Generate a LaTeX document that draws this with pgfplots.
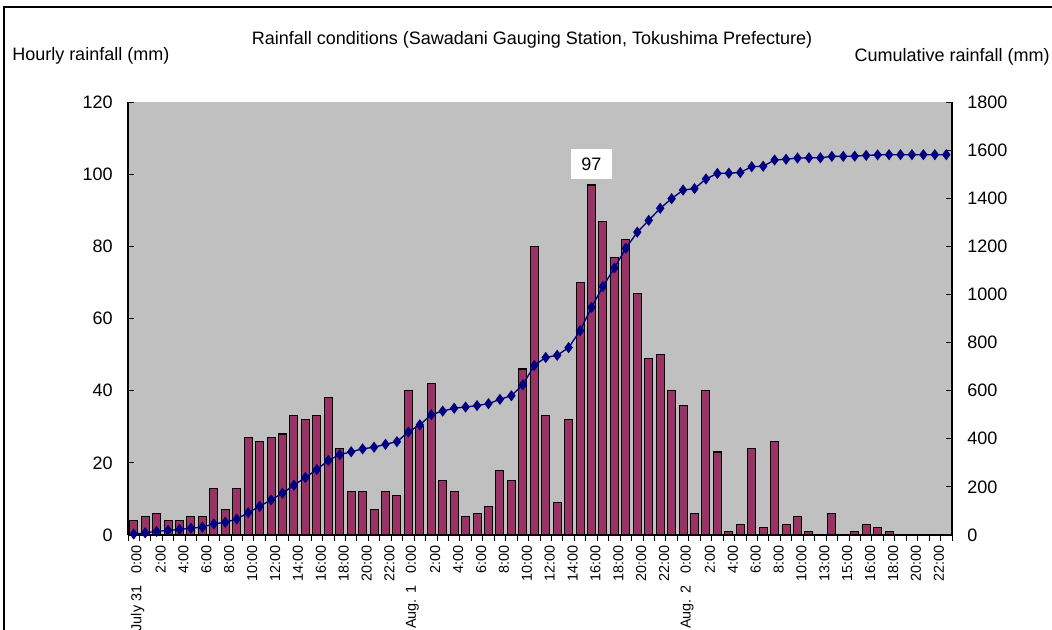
\documentclass[border=0pt]{standalone}
\usepackage{fontspec}
\setmainfont{Liberation Sans}
\usepackage{pgfplots}
\pgfplotsset{compat=1.18}
\definecolor{bggray}{HTML}{C0C0C0}
\definecolor{barcol}{HTML}{993366}
\definecolor{linecol}{HTML}{000080}
\begin{document}
\begin{tikzpicture}
\useasboundingbox (0,0) rectangle (789pt,471.75pt);
\draw[line width=1.2pt] (3pt,-5pt) -- (3pt,466.5pt) -- (795pt,466.5pt);
\begin{axis}[at={(96pt,70.5pt)}, anchor=south west, scale only axis,
  width=618pt, height=324.75pt,
  xmin=-0.5, xmax=71.5, ymin=0, ymax=120, ytick={0,20,...,120},
  axis x line*=bottom, axis y line*=left,
  axis line style={-, line width=0.8pt},
  axis background/.style={fill=bggray},
  tick align=inside, major tick length=4.5pt, minor tick length=4.5pt,
  tick style={black, line width=0.7pt},
  xtick={0,2,...,70},
  xticklabels={{July 31\hspace{9pt}0:00},2:00,4:00,6:00,8:00,10:00,12:00,14:00,16:00,18:00,20:00,22:00,
    {Aug. 1\hspace{9pt}0:00},2:00,4:00,6:00,8:00,10:00,12:00,14:00,16:00,18:00,20:00,22:00,
    {Aug. 2\hspace{9pt}0:00},2:00,4:00,6:00,8:00,10:00,13:00,15:00,16:00,18:00,20:00,22:00},
  minor xtick={-0.5,0.5,...,71.5},
  major x tick style={draw=none},
  /pgf/number format/assume math mode=true,
  yticklabel style={font=\fontsize{13.5}{14}\selectfont, xshift=-8pt},
  xticklabel style={font=\fontsize{10.8}{11}\selectfont, rotate=90, anchor=east, yshift=-3pt},
  ybar, bar width=0.7,
]
\addplot[fill=barcol, draw=black, line width=0.8pt] coordinates {
(0,4) (1,5) (2,6) (3,4) (4,4) (5,5) (6,5) (7,13) (8,7) (9,13)
(10,27) (11,26) (12,27) (13,28) (14,33) (15,32) (16,33) (17,38) (18,24) (19,12)
(20,12) (21,7) (22,12) (23,11) (24,40) (25,30) (26,42) (27,15) (28,12) (29,5)
(30,6) (31,8) (32,18) (33,15) (34,46) (35,80) (36,33) (37,9) (38,32) (39,70)
(40,97) (41,87) (42,77) (43,82) (44,67) (45,49) (46,50) (47,40) (48,36) (49,6)
(50,40) (51,23) (52,1) (53,3) (54,24) (55,2) (56,26) (57,3) (58,5) (59,1)
(60,0) (61,6) (62,0) (63,1) (64,3) (65,2) (66,1) (67,0) (68,0) (69,0)
(70,0) (71,0)
};
\node[fill=white, inner xsep=8pt, inner ysep=6.5pt, anchor=south, font=\fontsize{13.5}{14}\selectfont, yshift=4pt] at (axis cs:40,97) {97};
\end{axis}
\begin{axis}[at={(96pt,70.5pt)}, anchor=south west, scale only axis,
  width=618pt, height=324.75pt,
  xmin=-0.5, xmax=71.5, ymin=0, ymax=1800, ytick={0,200,...,1800},
  axis y line*=right, axis x line=none,
  axis line style={-, line width=0.8pt},
  tick align=inside, major tick length=4.5pt,
  tick style={black, line width=0.7pt},
  /pgf/number format/assume math mode=true,
  /pgf/number format/1000 sep={},
  yticklabel style={font=\fontsize{13.5}{14}\selectfont, xshift=8pt},
]
\addplot[color=linecol, line width=1pt, mark=diamond*, mark size=3.4pt, mark options={fill=linecol}] coordinates {
(0,4) (1,9) (2,15) (3,19) (4,23) (5,28) (6,33) (7,46) (8,53) (9,66)
(10,93) (11,119) (12,146) (13,174) (14,207) (15,239) (16,272) (17,310) (18,334) (19,346)
(20,358) (21,365) (22,377) (23,388) (24,428) (25,458) (26,500) (27,515) (28,527) (29,532)
(30,538) (31,546) (32,564) (33,579) (34,625) (35,705) (36,738) (37,747) (38,779) (39,849)
(40,946) (41,1033) (42,1110) (43,1192) (44,1259) (45,1308) (46,1358) (47,1398) (48,1434) (49,1440)
(50,1480) (51,1503) (52,1504) (53,1507) (54,1531) (55,1533) (56,1559) (57,1562) (58,1567) (59,1568)
(60,1568) (61,1574) (62,1574) (63,1575) (64,1578) (65,1580) (66,1581) (67,1581) (68,1581) (69,1581)
(70,1581) (71,1581)
};
\end{axis}
\node[font=\fontsize{13.5}{14}\selectfont] at (399pt,441.75pt) {Rainfall conditions (Sawadani Gauging Station, Tokushima Prefecture)};
\node[font=\fontsize{13.5}{14}\selectfont, anchor=west, inner sep=0pt] at (9pt,429.75pt) {Hourly rainfall (mm)};
\node[font=\fontsize{13.5}{14}\selectfont, anchor=east, inner sep=0pt] at (787.5pt,429pt) {Cumulative rainfall (mm)};
\end{tikzpicture}
\end{document}
